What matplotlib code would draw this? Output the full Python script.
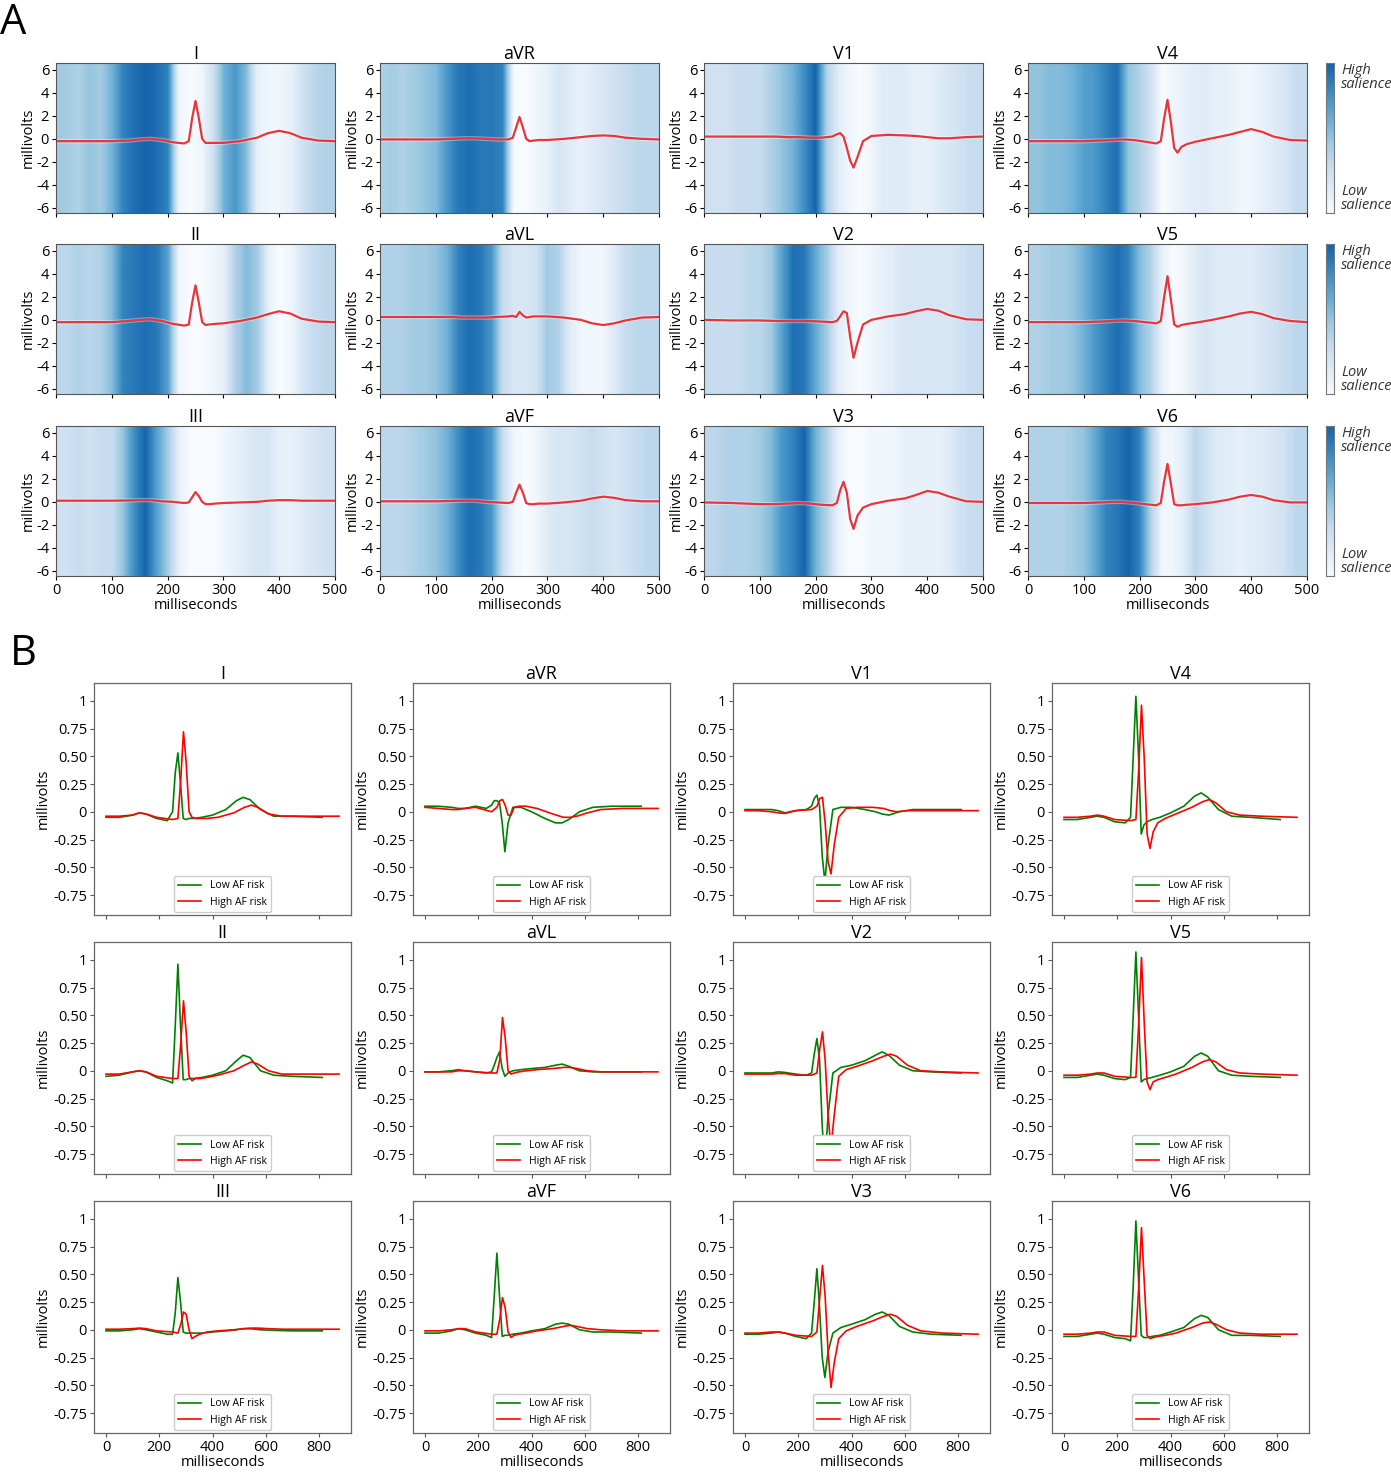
import numpy as np
import matplotlib
matplotlib.use("Agg")
import matplotlib.pyplot as plt
import matplotlib.patheffects as pe
from matplotlib.colors import LinearSegmentedColormap

plt.rcParams['font.family'] = ['Open Sans', 'DejaVu Sans']
plt.rcParams['axes.unicode_minus'] = False

W, H = 1391, 1472

### PANEL A DATA (median beat, saliency map)
a_time = [0, 50, 100, 130, 150, 170, 190, 210, 230, 238, 244, 250, 256,
          262, 268, 275, 285, 300, 330, 360, 380, 400, 420, 440, 470, 500]

ecg_I   = [-0.2, -0.2, -0.2, -0.15, -0.05, 0.0, -0.1, -0.3, -0.4, -0.2, 1.8, 3.3, 1.8,
           0.0, -0.35, -0.35, -0.35, -0.35, -0.2, 0.1, 0.5, 0.7, 0.5, 0.1, -0.15, -0.2]
ecg_aVR = [-0.05, -0.05, -0.05, 0.0, 0.05, 0.05, 0.0, -0.05, -0.05, 0.1, 1.0, 1.9, 1.0,
           0.0, -0.2, -0.15, -0.1, -0.1, 0.0, 0.15, 0.25, 0.3, 0.25, 0.1, 0.0, -0.05]
ecg_V1  = [0.2, 0.2, 0.2, 0.2, 0.15, 0.15, 0.1, 0.1, 0.2, 0.4, 0.5, 0.2, -0.8,
           -1.9, -2.5, -1.6, -0.2, 0.25, 0.35, 0.3, 0.25, 0.15, 0.05, 0.05, 0.15, 0.2]
ecg_V4  = [-0.2, -0.2, -0.2, -0.15, -0.1, -0.05, -0.1, -0.25, -0.4, -0.2, 1.8, 3.4, 1.5,
           -0.8, -1.2, -0.7, -0.45, -0.25, 0.05, 0.35, 0.6, 0.85, 0.6, 0.2, -0.1, -0.15]
ecg_II  = [-0.2, -0.2, -0.2, -0.1, 0.0, 0.05, -0.1, -0.35, -0.5, -0.4, 1.5, 3.0, 1.5,
           -0.2, -0.45, -0.4, -0.35, -0.3, -0.1, 0.2, 0.5, 0.75, 0.55, 0.1, -0.15, -0.2]
ecg_aVL = [0.25, 0.25, 0.25, 0.25, 0.2, 0.2, 0.2, 0.25, 0.3, 0.35, 0.25, 0.7, 0.4,
           0.2, 0.25, 0.3, 0.3, 0.3, 0.2, 0.0, -0.3, -0.45, -0.3, -0.05, 0.2, 0.25]
ecg_V2  = [0.0, -0.05, -0.05, -0.1, -0.1, -0.1, -0.1, -0.15, -0.2, -0.1, 0.3, 0.75, 0.6,
           -1.5, -3.3, -2.0, -0.4, 0.0, 0.3, 0.5, 0.75, 0.95, 0.8, 0.4, 0.05, 0.0]
ecg_V5  = [-0.2, -0.2, -0.2, -0.15, -0.1, -0.05, -0.1, -0.2, -0.3, -0.1, 2.0, 3.8, 1.8,
           -0.4, -0.6, -0.45, -0.35, -0.25, 0.0, 0.3, 0.55, 0.7, 0.5, 0.15, -0.1, -0.2]
ecg_III = [0.1, 0.1, 0.1, 0.12, 0.15, 0.15, 0.05, 0.0, -0.1, -0.05, 0.4, 0.85, 0.5,
           0.0, -0.2, -0.2, -0.15, -0.1, -0.05, 0.0, 0.1, 0.15, 0.15, 0.1, 0.1, 0.1]
ecg_aVF = [0.05, 0.05, 0.05, 0.08, 0.1, 0.1, 0.0, -0.05, -0.1, 0.0, 0.8, 1.5, 0.8,
           -0.1, -0.2, -0.2, -0.15, -0.15, -0.05, 0.1, 0.3, 0.45, 0.35, 0.15, 0.05, 0.05]
ecg_V3  = [-0.05, -0.1, -0.2, -0.2, -0.15, -0.1, -0.15, -0.25, -0.3, -0.1, 1.0, 1.75, 0.8,
           -1.5, -2.35, -1.2, -0.5, -0.2, 0.1, 0.3, 0.6, 0.95, 0.8, 0.45, 0.05, 0.0]
ecg_V6  = [-0.1, -0.1, -0.1, -0.05, 0.0, 0.0, -0.1, -0.2, -0.3, -0.1, 1.8, 3.3, 1.6,
           -0.2, -0.3, -0.3, -0.25, -0.2, -0.05, 0.2, 0.45, 0.6, 0.45, 0.15, -0.05, -0.05]

# saliency every 20 ms, 0..500
sal_time = np.arange(0, 501, 20)
sal_I   = [0.45, 0.45, 0.4, 0.5, 0.45, 0.6, 0.85, 0.95, 1.0, 0.95, 0.85, 0.05, 0.0,
           0.05, 0.25, 0.6, 0.75, 0.55, 0.1, 0.05, 0.05, 0.1, 0.25, 0.35, 0.4, 0.4]
sal_aVR = [0.4, 0.45, 0.4, 0.45, 0.5, 0.55, 0.75, 0.9, 0.95, 0.9, 0.9, 0.85, 0.0,
           0.0, 0.05, 0.1, 0.2, 0.15, 0.1, 0.15, 0.2, 0.25, 0.3, 0.35, 0.35, 0.35]
sal_V1  = [0.25, 0.25, 0.25, 0.3, 0.3, 0.3, 0.4, 0.5, 0.6, 0.8, 1.0, 0.4, 0.15,
           0.05, 0.0, 0.05, 0.15, 0.15, 0.15, 0.1, 0.1, 0.15, 0.2, 0.25, 0.3, 0.3]
sal_V4  = [0.5, 0.5, 0.55, 0.55, 0.6, 0.7, 0.75, 0.85, 0.95, 0.5, 0.4, 0.25, 0.0,
           0.05, 0.1, 0.15, 0.15, 0.1, 0.1, 0.05, 0.05, 0.1, 0.15, 0.2, 0.3, 0.3]
sal_II  = [0.35, 0.35, 0.4, 0.35, 0.4, 0.55, 0.85, 0.9, 0.95, 0.9, 0.7, 0.05, 0.0,
           0.0, 0.05, 0.1, 0.4, 0.55, 0.45, 0.1, 0.0, 0.05, 0.2, 0.3, 0.35, 0.35]
sal_aVL = [0.4, 0.4, 0.4, 0.45, 0.45, 0.5, 0.6, 0.85, 0.95, 0.9, 0.75, 0.3, 0.2,
           0.2, 0.25, 0.45, 0.4, 0.15, 0.05, 0.05, 0.05, 0.15, 0.3, 0.35, 0.35, 0.35]
sal_V2  = [0.3, 0.3, 0.3, 0.3, 0.35, 0.35, 0.45, 0.7, 0.95, 0.9, 0.65, 0.45, 0.15,
           0.05, 0.0, 0.05, 0.1, 0.15, 0.2, 0.2, 0.2, 0.2, 0.2, 0.25, 0.3, 0.3]
sal_V5  = [0.4, 0.4, 0.45, 0.45, 0.5, 0.6, 0.75, 0.85, 0.95, 0.85, 0.55, 0.4, 0.1,
           0.0, 0.05, 0.15, 0.2, 0.15, 0.15, 0.15, 0.15, 0.2, 0.25, 0.3, 0.35, 0.35]
sal_III = [0.25, 0.25, 0.3, 0.25, 0.3, 0.3, 0.5, 0.8, 1.0, 0.7, 0.45, 0.1, 0.0,
           0.0, 0.0, 0.05, 0.1, 0.15, 0.2, 0.2, 0.1, 0.1, 0.15, 0.2, 0.25, 0.25]
sal_aVF = [0.35, 0.35, 0.35, 0.4, 0.45, 0.5, 0.6, 0.8, 0.95, 0.9, 0.75, 0.3, 0.05,
           0.0, 0.05, 0.15, 0.2, 0.2, 0.25, 0.3, 0.25, 0.2, 0.25, 0.3, 0.35, 0.35]
sal_V3  = [0.35, 0.35, 0.4, 0.4, 0.4, 0.45, 0.55, 0.75, 0.85, 1.0, 0.6, 0.4, 0.1,
           0.0, 0.0, 0.05, 0.05, 0.05, 0.1, 0.1, 0.1, 0.1, 0.15, 0.25, 0.3, 0.3]
sal_V6  = [0.4, 0.4, 0.4, 0.4, 0.45, 0.5, 0.65, 0.85, 0.9, 1.0, 0.85, 0.4, 0.05,
           0.05, 0.15, 0.35, 0.25, 0.15, 0.15, 0.1, 0.15, 0.15, 0.2, 0.25, 0.35, 0.35]

### PANEL B DATA (average beats, low vs high AF risk)
low_time = [0, 50, 100, 125, 150, 190, 230, 250, 260, 270, 280, 290, 300,
            312, 330, 360, 400, 450, 490, 515, 540, 580, 630, 700, 812]
high_time = [0, 50, 100, 125, 150, 190, 250, 270, 281, 291, 301, 312, 323,
             335, 352, 380, 420, 480, 520, 546, 570, 610, 660, 740, 875]

low_I   = [-0.05, -0.05, -0.03, -0.01, -0.02, -0.06, -0.08, 0.0, 0.35, 0.53, 0.25, -0.06, -0.07,
           -0.06, -0.06, -0.05, -0.03, 0.02, 0.1, 0.13, 0.11, 0.02, -0.04, -0.04, -0.05]
high_I  = [-0.04, -0.04, -0.03, -0.01, -0.02, -0.05, -0.07, -0.06, 0.3, 0.72, 0.45, 0.0, -0.05,
           -0.06, -0.06, -0.06, -0.05, -0.01, 0.04, 0.06, 0.04, -0.02, -0.04, -0.04, -0.04]
low_aVR = [0.05, 0.05, 0.04, 0.03, 0.03, 0.05, 0.03, 0.06, 0.1, 0.1, 0.08, -0.1, -0.36,
           -0.1, 0.04, 0.04, 0.0, -0.06, -0.1, -0.1, -0.07, 0.0, 0.04, 0.05, 0.05]
high_aVR = [0.04, 0.03, 0.02, 0.02, 0.03, 0.04, 0.0, 0.04, 0.1, 0.11, 0.06, -0.03, -0.03,
            0.04, 0.05, 0.05, 0.03, -0.02, -0.05, -0.05, -0.04, -0.01, 0.02, 0.03, 0.03]
low_V1  = [0.02, 0.02, 0.02, 0.01, -0.01, 0.01, 0.02, 0.05, 0.12, 0.15, 0.05, -0.4, -0.63,
           -0.3, 0.02, 0.04, 0.04, 0.02, 0.0, -0.02, -0.03, 0.0, 0.02, 0.02, 0.02]
high_V1 = [0.01, 0.01, 0.0, -0.01, -0.015, 0.01, 0.02, 0.05, 0.12, 0.13, -0.1, -0.45, -0.56,
           -0.3, -0.05, 0.03, 0.04, 0.04, 0.03, 0.01, 0.0, 0.01, 0.01, 0.01, 0.01]
low_V4  = [-0.07, -0.07, -0.05, -0.04, -0.05, -0.09, -0.1, -0.05, 0.5, 1.04, 0.5, -0.2, -0.12,
           -0.09, -0.07, -0.05, -0.01, 0.05, 0.14, 0.17, 0.13, 0.02, -0.04, -0.05, -0.07]
high_V4 = [-0.05, -0.05, -0.04, -0.03, -0.04, -0.07, -0.08, -0.07, 0.4, 0.96, 0.5, -0.2, -0.33,
           -0.18, -0.1, -0.06, -0.02, 0.04, 0.09, 0.11, 0.08, 0.0, -0.03, -0.04, -0.05]
low_II  = [-0.05, -0.04, -0.01, 0.0, -0.01, -0.06, -0.09, -0.11, 0.4, 0.96, 0.4, -0.08, -0.08,
           -0.07, -0.07, -0.06, -0.04, 0.0, 0.09, 0.14, 0.12, 0.0, -0.04, -0.05, -0.06]
high_II = [-0.03, -0.03, -0.01, 0.0, -0.01, -0.05, -0.07, -0.07, 0.25, 0.63, 0.35, -0.05, -0.09,
           -0.07, -0.07, -0.06, -0.04, 0.0, 0.05, 0.08, 0.06, 0.0, -0.03, -0.03, -0.03]
low_aVL = [-0.01, -0.01, 0.0, 0.01, 0.0, -0.01, -0.02, -0.01, 0.05, 0.12, 0.17, 0.02, -0.05,
           -0.02, 0.0, 0.01, 0.02, 0.03, 0.05, 0.06, 0.04, 0.0, -0.01, -0.01, -0.01]
high_aVL = [-0.01, -0.01, -0.01, 0.0, 0.0, -0.01, -0.02, -0.02, 0.1, 0.48, 0.3, 0.0, -0.03,
            -0.02, -0.01, 0.0, 0.01, 0.02, 0.03, 0.03, 0.02, 0.0, -0.01, -0.01, -0.01]
low_V2  = [-0.02, -0.02, -0.02, -0.01, -0.015, -0.03, -0.04, -0.02, 0.15, 0.29, 0.1, -0.5, -0.85,
           -0.4, -0.02, 0.03, 0.05, 0.09, 0.14, 0.17, 0.14, 0.05, 0.0, -0.01, -0.02]
high_V2 = [-0.03, -0.03, -0.03, -0.025, -0.025, -0.04, -0.04, -0.02, 0.2, 0.35, 0.1, -0.4, -0.7,
           -0.4, -0.05, 0.01, 0.04, 0.09, 0.13, 0.15, 0.13, 0.05, 0.0, -0.01, -0.02]
low_V5  = [-0.06, -0.06, -0.04, -0.03, -0.04, -0.07, -0.08, -0.06, 0.5, 1.07, 0.5, -0.1, -0.08,
           -0.07, -0.06, -0.04, -0.01, 0.04, 0.13, 0.16, 0.13, 0.0, -0.04, -0.05, -0.06]
high_V5 = [-0.04, -0.04, -0.03, -0.02, -0.02, -0.05, -0.06, -0.06, 0.45, 1.02, 0.45, -0.1, -0.17,
           -0.1, -0.08, -0.06, -0.03, 0.03, 0.08, 0.1, 0.08, 0.01, -0.02, -0.03, -0.04]
low_III = [-0.01, -0.01, 0.0, 0.01, 0.0, -0.02, -0.04, -0.04, 0.15, 0.47, 0.25, -0.02, -0.03,
           -0.03, -0.03, -0.03, -0.02, -0.01, 0.0, 0.01, 0.01, 0.0, -0.005, -0.01, -0.01]
high_III = [0.005, 0.005, 0.01, 0.015, 0.01, -0.01, -0.02, -0.03, 0.05, 0.16, 0.14, 0.0, -0.08,
            -0.06, -0.04, -0.02, -0.01, 0.0, 0.01, 0.015, 0.015, 0.01, 0.005, 0.005, 0.005]
low_aVF = [-0.03, -0.03, -0.01, 0.01, 0.0, -0.03, -0.05, -0.07, 0.3, 0.69, 0.3, -0.06, -0.05,
           -0.05, -0.04, -0.03, -0.01, 0.01, 0.05, 0.06, 0.05, 0.0, -0.02, -0.02, -0.03]
high_aVF = [-0.01, -0.01, 0.0, 0.01, 0.01, -0.02, -0.04, -0.04, 0.1, 0.29, 0.2, -0.02, -0.07,
            -0.05, -0.04, -0.03, -0.01, 0.01, 0.03, 0.04, 0.03, 0.01, 0.0, -0.01, -0.01]
low_V3  = [-0.04, -0.04, -0.03, -0.02, -0.03, -0.06, -0.08, -0.03, 0.25, 0.55, 0.2, -0.25, -0.43,
           -0.2, -0.03, 0.02, 0.05, 0.09, 0.14, 0.16, 0.13, 0.03, -0.02, -0.04, -0.05]
high_V3 = [-0.03, -0.03, -0.02, -0.02, -0.03, -0.05, -0.06, -0.02, 0.3, 0.58, 0.3, -0.2, -0.52,
           -0.3, -0.08, -0.01, 0.03, 0.08, 0.12, 0.14, 0.12, 0.04, -0.01, -0.03, -0.04]
low_V6  = [-0.06, -0.06, -0.04, -0.03, -0.04, -0.07, -0.08, -0.1, 0.4, 0.98, 0.45, -0.05, -0.07,
           -0.07, -0.06, -0.05, -0.02, 0.02, 0.1, 0.13, 0.11, 0.0, -0.05, -0.05, -0.06]
high_V6 = [-0.04, -0.04, -0.03, -0.02, -0.02, -0.05, -0.06, -0.06, 0.4, 0.92, 0.45, -0.05, -0.08,
           -0.07, -0.06, -0.05, -0.03, 0.02, 0.06, 0.07, 0.05, 0.0, -0.03, -0.04, -0.04]

leads = ['I', 'aVR', 'V1', 'V4', 'II', 'aVL', 'V2', 'V5', 'III', 'aVF', 'V3', 'V6']
ecg = dict(zip(leads, [ecg_I, ecg_aVR, ecg_V1, ecg_V4, ecg_II, ecg_aVL,
                       ecg_V2, ecg_V5, ecg_III, ecg_aVF, ecg_V3, ecg_V6]))
sal = dict(zip(leads, [sal_I, sal_aVR, sal_V1, sal_V4, sal_II, sal_aVL,
                       sal_V2, sal_V5, sal_III, sal_aVF, sal_V3, sal_V6]))
low = dict(zip(leads, [low_I, low_aVR, low_V1, low_V4, low_II, low_aVL,
                       low_V2, low_V5, low_III, low_aVF, low_V3, low_V6]))
high = dict(zip(leads, [high_I, high_aVR, high_V1, high_V4, high_II, high_aVL,
                        high_V2, high_V5, high_III, high_aVF, high_V3, high_V6]))


def box(left, top, w, h):
    return [left / W, 1 - (top + h) / H, w / W, h / H]


cmap = LinearSegmentedColormap.from_list(
    "sal", plt.cm.Blues(np.linspace(0.0, 0.8, 256)))

fig = plt.figure(figsize=(W / 100, H / 100), dpi=100)

### PANEL A
a_lefts = [56, 380, 704, 1028]
a_tops = [63, 244, 426]
for i, lead in enumerate(leads):
    r, c = divmod(i, 4)
    ax = fig.add_axes(box(a_lefts[c], a_tops[r], 279, 150))
    ax.imshow(np.array(sal[lead])[None, :], aspect='auto', cmap=cmap,
              vmin=0, vmax=1, interpolation='bilinear',
              extent=[sal_time[0] - 10, sal_time[-1] + 10, -6.45, 6.5])
    ax.plot(a_time, ecg[lead], color='#e8353b', lw=1.6, solid_joinstyle='round',
            path_effects=[pe.withStroke(linewidth=3.2, foreground='white', alpha=0.35)])
    ax.set_xlim(0, 500)
    ax.set_ylim(-6.45, 6.6)
    ax.set_yticks([-6, -4, -2, 0, 2, 4, 6])
    ax.set_xticks([0, 100, 200, 300, 400, 500])
    ax.tick_params(labelsize=10.5, length=3, pad=2)
    if r < 2:
        ax.set_xticklabels([])
    else:
        ax.set_xlabel("milliseconds", fontsize=10.5, labelpad=0)
    ax.set_ylabel("millivolts", fontsize=10.5, labelpad=0)
    ax.set_title(lead, fontsize=13, pad=2)
    for s in ax.spines.values():
        s.set_color('#555555')
        s.set_linewidth(0.8)

    if c == 3:
        cax = fig.add_axes(box(1326, a_tops[r], 8, 150))
        cax.imshow(np.linspace(1, 0, 100)[:, None], aspect='auto', cmap=cmap,
                   vmin=0, vmax=1, extent=[0, 1, 0, 1])
        cax.set_xticks([])
        cax.set_yticks([])
        for s in cax.spines.values():
            s.set_color('#777777')
            s.set_linewidth(0.8)
        cax.text(1.9, 1.0, "High\nsalience", transform=cax.transAxes, fontsize=10.5,
                 style='italic', va='top', ha='left', color='#333333', linespacing=0.95)
        cax.text(1.9, 0.0, "Low\nsalience", transform=cax.transAxes, fontsize=10.5,
                 style='italic', va='bottom', ha='left', color='#333333', linespacing=0.95)

### PANEL B
b_lefts = [94, 413, 733, 1052]
b_tops = [683, 942, 1201]
for i, lead in enumerate(leads):
    r, c = divmod(i, 4)
    ax = fig.add_axes(box(b_lefts[c], b_tops[r], 257, 232))
    ax.plot(low_time, low[lead], color='green', lw=1.2, label='Low AF risk')
    ax.plot(high_time, high[lead], color='red', lw=1.2, label='High AF risk')
    ax.set_xlim(-45, 920)
    ax.set_ylim(-0.93, 1.16)
    ax.set_yticks([-0.75, -0.5, -0.25, 0, 0.25, 0.5, 0.75, 1])
    ax.set_yticklabels(['-0.75', '-0.50', '-0.25', '0', '0.25', '0.50', '0.75', '1'])
    ax.set_xticks([0, 200, 400, 600, 800])
    ax.tick_params(labelsize=10.5, length=3, pad=2, color='#555555')
    if r < 2:
        ax.set_xticklabels([])
    else:
        ax.set_xlabel("milliseconds", fontsize=10.5, labelpad=0)
    ax.set_ylabel("millivolts", fontsize=10.5, labelpad=2)
    ax.set_title(lead, fontsize=13, pad=1)
    for s in ax.spines.values():
        s.set_color('#666666')
        s.set_linewidth(0.9)
    ax.legend(loc='lower center', fontsize=7.5, borderaxespad=0.3,
              handlelength=2.2, framealpha=1, edgecolor='#cccccc')

fig.text(0 / W, 1 - 34 / H, "A", fontsize=30, ha='left', va='baseline')
fig.text(10 / W, 1 - 665 / H, "B", fontsize=30, ha='left', va='baseline')

fig.savefig("out.png", dpi=100)
